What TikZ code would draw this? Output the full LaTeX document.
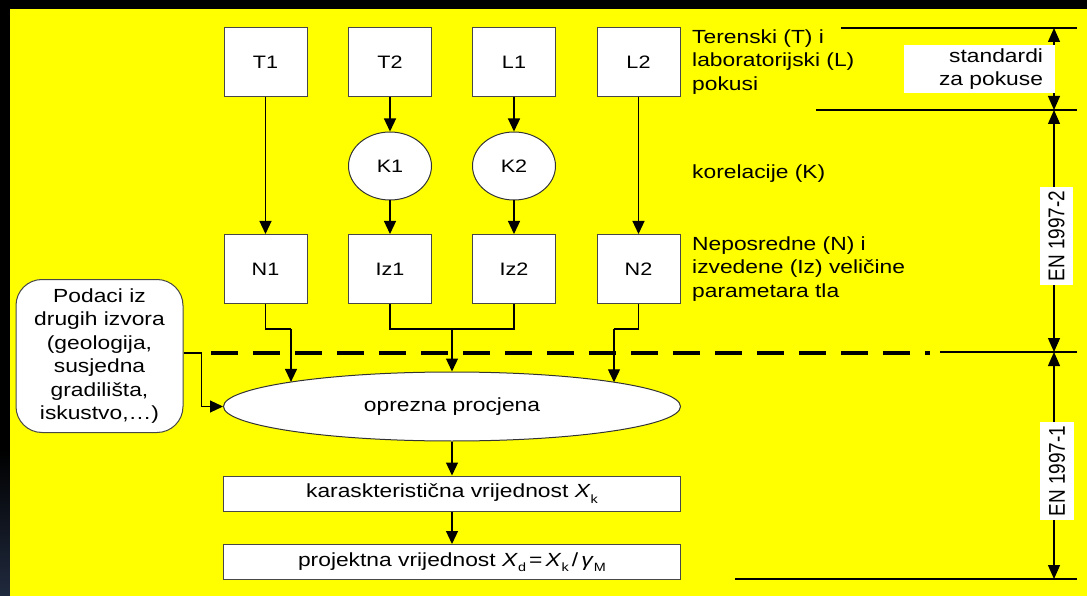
\documentclass[tikz,border=0pt]{standalone}
\usepackage{graphicx}
\usepackage{fontspec}
\setmainfont[FakeStretch=1.2]{Liberation Sans}
\newfontfamily\plainsf{Liberation Sans}
\usetikzlibrary{arrows.meta,shapes.geometric}
\newcommand\mytxt{\fontsize{19}{23.5}\selectfont}
\newcommand\mylbl{\fontsize{18}{21}\selectfont}
\newcommand\mysub[1]{\raisebox{-0.28em}{\fontsize{12}{12}\selectfont #1}}
\definecolor{bgyellow}{RGB}{255,255,0}
\definecolor{navy}{RGB}{32,42,62}
\tikzset{
  box/.style={draw=black!72, fill=white, line width=1pt, minimum width=83pt, minimum height=69pt, inner sep=0pt, font=\mylbl},
  kell/.style={ellipse, draw=black!80, fill=white, line width=1pt, minimum width=83pt, minimum height=68pt, inner sep=0pt, font=\mylbl},
  widebox/.style={draw=black!72, fill=white, line width=1pt, minimum width=457pt, minimum height=35pt, inner sep=0pt, font=\mytxt},
  flow/.style={line width=1.2pt, -{Triangle[length=13pt,width=12pt]}},
  link/.style={line width=1.2pt},
  dimarrow/.style={line width=1.3pt, {Triangle[length=14pt,width=12pt]}-{Triangle[length=14pt,width=12pt]}},
  rule/.style={line width=2pt},
  sidetxt/.style={anchor=west, align=left, inner sep=0pt, font=\mytxt},
  tag/.style={fill=white, inner sep=0pt},
}
\begin{document}
\begin{tikzpicture}[x=1pt,y=-1pt]
\useasboundingbox (0,0) rectangle (1087,596);
% background
\fill[black] (0,0) rectangle (1087,9);
\fill[black] (0,0) rectangle (10,450);
\shade[top color=black, bottom color=navy] (0,450) rectangle (10,596);
\fill[bgyellow] (10,9) rectangle (1087,596);

% top row
\node[box] (T1) at (265.5,62) {T1};
\node[box] (T2) at (390,62) {T2};
\node[box] (L1) at (514,62) {L1};
\node[box] (L2) at (638.5,62) {L2};
% correlations
\node[kell] (K1) at (390,166) {K1};
\node[kell] (K2) at (514,166) {K2};
% parameters
\node[box] (N1) at (265.5,269) {N1};
\node[box] (Iz1) at (390,269) {Iz1};
\node[box] (Iz2) at (514,269) {Iz2};
\node[box] (N2) at (638.5,269) {N2};

% assessment ellipse
\node[ellipse, draw=black!80, fill=white, line width=1pt, minimum width=457pt, minimum height=69pt, inner sep=0pt, font=\mytxt] (ell) at (452,406.5) {oprezna procjena};
\node[widebox] (kar) at (452,493.5) {karaskteristična vrijednost \textit{X}\mysub{k}};
\node[widebox] (proj) at (452,562) {projektna vrijednost \textit{X}\mysub{d}\,=\,\textit{X}\mysub{k}\,/\,\textit{γ}\mysub{M}};

% other sources
\node[draw=black!72, fill=white, line width=1pt, rounded corners=26pt, minimum width=167pt, minimum height=153pt, inner sep=0pt, align=center, font=\mytxt] (pod) at (99.5,356)
  {Podaci iz\\drugih izvora\\(geologija,\\susjedna\\gradilišta,\\iskustvo,…)};

% flow connectors
\draw[flow] (T1) -- (N1);
\draw[flow] (T2) -- (K1);
\draw[flow] (K1) -- (Iz1);
\draw[flow] (L1) -- (K2);
\draw[flow] (K2) -- (Iz2);
\draw[flow] (L2) -- (N2);

\coordinate (j1) at (291,329);
\coordinate (e1) at (291,381.9);
\coordinate (jm) at (452,329);
\coordinate (j2) at (614,329);
\coordinate (e2) at (614,382.3);
\draw[link] (N1.south) |- (j1);
\draw[flow] (j1) -- (e1);
\draw[link] (Iz1.south) |- (jm) -| (Iz2.south);
\draw[flow] (jm) -- (ell.north);
\draw[link] (N2.south) |- (j2);
\draw[flow] (j2) -- (e2);

\coordinate (pj) at (201.7,353);
\draw[flow] (pod.east |- pj) -- (pj) |- (ell.west);

\draw[flow] (ell.south) -- (kar.north);
\draw[flow] (kar.south) -- (proj.north);

% dashed boundary
\coordinate (d0) at (211,353);
\coordinate (d1) at (930,353);
\draw[line width=3.6pt, dash pattern=on 27pt off 15pt] (d0) -- (d1);

% side texts
\node[sidetxt] (tx1) at (692,62) {Terenski (T) i\\laboratorijski (L)\\pokusi};
\node[sidetxt] (tx2) at (692,174) {korelacije (K)};
\node[sidetxt] (tx3) at (692,269) {Neposredne (N) i\\izvedene (Iz) veličine\\parametara tla};

% dimension rules
\coordinate (r1a) at (841,28);  \coordinate (r1b) at (1077,28);
\coordinate (r2a) at (816,110); \coordinate (r2b) at (1077,110);
\coordinate (r3a) at (940,352); \coordinate (r3b) at (1077,352);
\coordinate (r4a) at (735,579); \coordinate (r4b) at (1077,579);
\draw[rule] (r1a) -- (r1b);
\draw[rule] (r2a) -- (r2b);
\draw[rule] (r3a) -- (r3b);
\draw[rule] (r4a) -- (r4b);
\coordinate (v1) at (1054,28);
\coordinate (v2) at (1054,110);
\coordinate (v3) at (1054,352);
\coordinate (v4) at (1054,579);
\draw[dimarrow] (v1) -- (v2);
\draw[dimarrow] (v2) -- (v3);
\draw[dimarrow] (v3) -- (v4);

\node[tag, minimum width=151pt, minimum height=48pt, text width=127pt, align=right, inner xsep=12pt, font=\mytxt] (std) at (979.5,69) {standardi\\za pokuse};
\node[tag, rotate=90, minimum width=98pt, minimum height=33pt] (en2) at (1056.5,236) {\scalebox{1}[1.2]{\plainsf\fontsize{19}{23}\selectfont EN 1997-2}};
\node[tag, rotate=90, minimum width=98pt, minimum height=34pt] (en1) at (1057,471) {\scalebox{1}[1.2]{\plainsf\fontsize{19}{23}\selectfont EN 1997-1}};
\end{tikzpicture}
\end{document}
